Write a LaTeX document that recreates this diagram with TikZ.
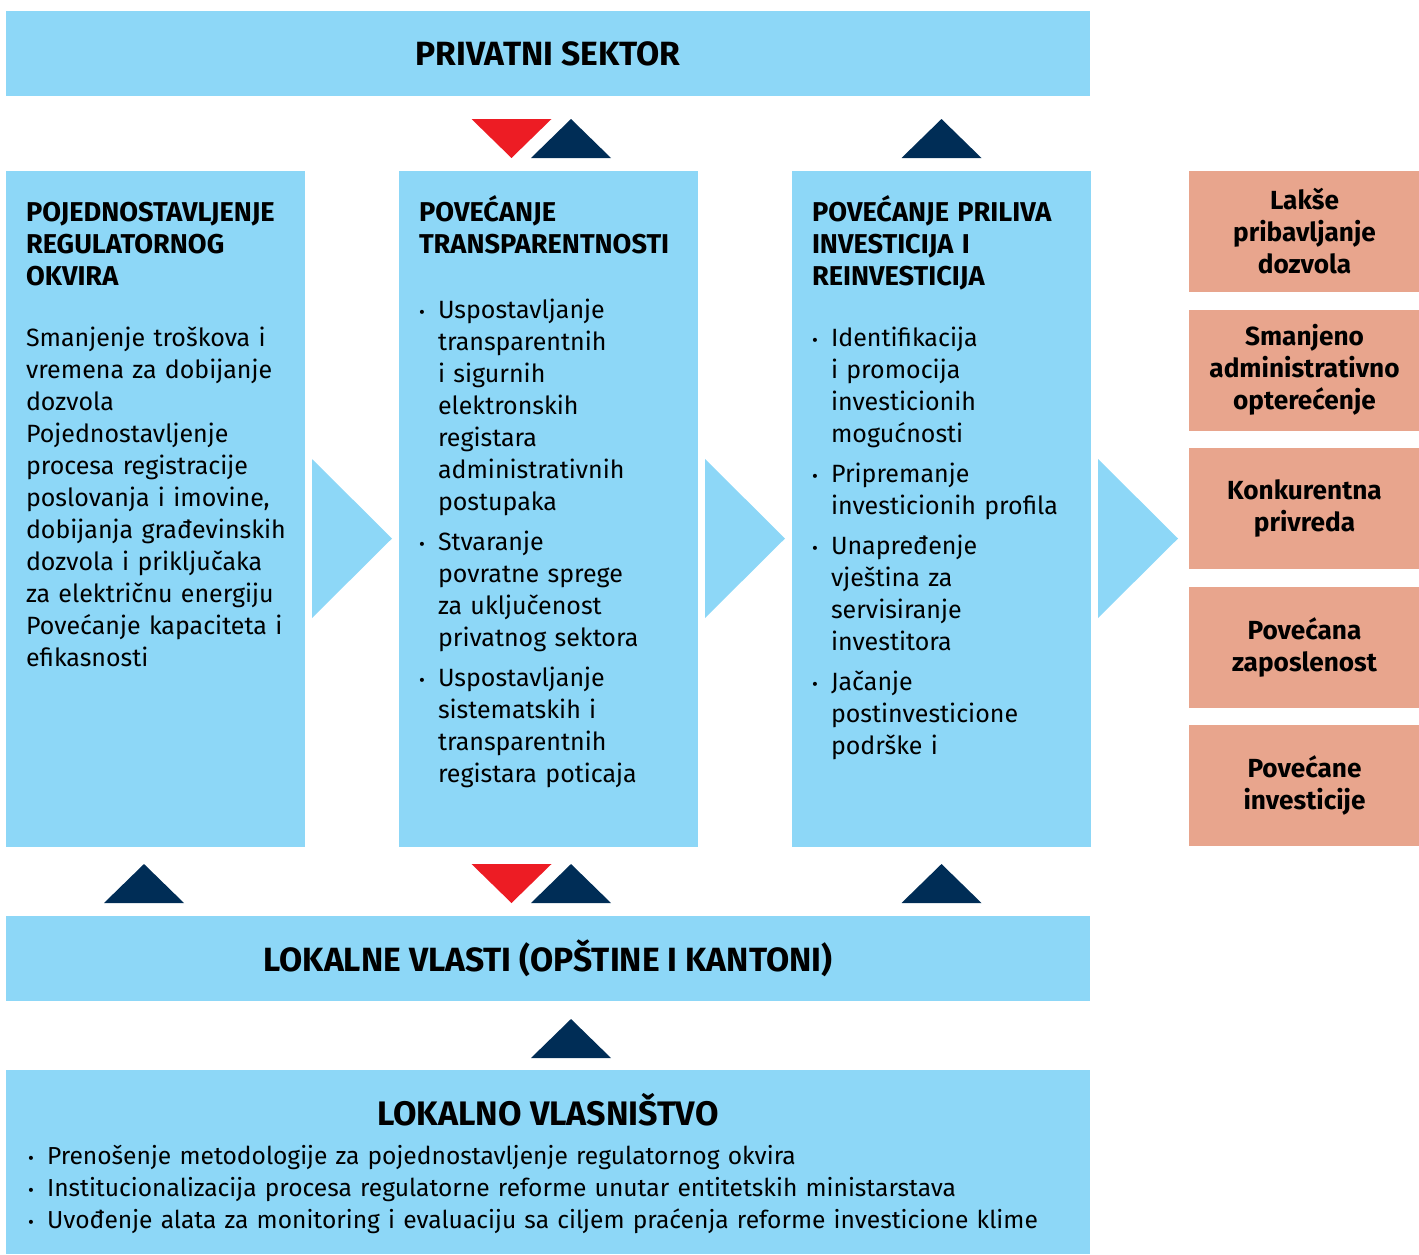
\documentclass[tikz,border=0pt]{standalone}
\usepackage{fontspec}
\setmainfont{Fira Sans}
\usetikzlibrary{positioning,calc}
\definecolor{skyblue}{HTML}{8DD7F7}
\definecolor{navy}{HTML}{002D56}
\definecolor{flagred}{HTML}{ED1C24}
\definecolor{salmon}{HTML}{E8A58D}
\definecolor{ink}{HTML}{231F20}
\newcommand\bul[2][130pt]{\par\noindent\makebox[9.5pt][l]{\small\textbullet}\parbox[t]{#1}{\strut#2\strut}}
\newcommand\topline{\rule{0pt}{13pt}}

\begin{document}
\begin{tikzpicture}[x=0.5pt,y=-0.5pt,node distance=23.5pt,outer sep=0pt,font=\color{ink}]
  \tikzstyle{bar}=[rectangle,fill=skyblue,inner sep=0pt,minimum width=542pt,
                   minimum height=42.5pt,font=\fontsize{16.8}{18}\selectfont\bfseries]
  \tikzstyle{column}=[rectangle,fill=skyblue,inner sep=0pt,minimum width=149.5pt,minimum height=338pt]
  \tikzstyle{coltext}=[anchor=north west,inner sep=0pt,text width=142pt,align=left,
                       font=\fontsize{12.5}{16}\selectfont]
  \tikzstyle{result}=[rectangle,fill=salmon,inner sep=0pt,minimum width=115.5pt,
                      minimum height=60.5pt,align=center,font=\fontsize{13.1}{16}\selectfont\bfseries]
  \tikzset{
    navyup/.pic={\fill[navy] (-40,19.5) -- (40,19.5) -- (0,-19.5) -- cycle;},
    reddown/.pic={\fill[flagred] (-40,-19.5) -- (40,-19.5) -- (0,19.5) -- cycle;},
    chevron/.pic={\fill[skyblue] (0,-79.5) -- (80,0) -- (0,79.5) -- cycle;}
  }
  \useasboundingbox (0,0) rectangle (1419,1254);

  % boxes
  \node [bar] (priv) at (548,53.5) {PRIVATNI SEKTOR};
  \node [column] (col1) [below=37.5pt of priv.south west,anchor=north west] {};
  \node [column] (col2) [right=47pt of col1] {};
  \node [column] (col3) [right=47pt of col2] {};
  \node [result] (res1) [right=49pt of col3.north east,anchor=north west] {Lakše\\pribavljanje\\dozvola};
  \node [result] (res2) [below=8.75pt of res1] {Smanjeno\\administrativno\\opterećenje};
  \node [result] (res3) [below=8.75pt of res2] {Konkurentna\\privreda};
  \node [result] (res4) [below=8.75pt of res3] {Povećana\\zaposlenost};
  \node [result] (res5) [below=8.75pt of res4] {Povećane\\investicije};
  \node [bar] (lok) [below=34.5pt of col1.south west,anchor=north west] {LOKALNE VLASTI (OPŠTINE I KANTONI)};
  \node [bar,minimum height=92pt] (own) [below=34.5pt of lok] {};

  % column texts
  \node [coltext] (txt1) at ($(col1.north west)+(20,24.6)$) {\topline{\bfseries\fontsize{13.6}{16}\selectfont
    POJEDNOSTAVLJENJE\\REGULATORNOG\\OKVIRA}\par\vspace{14.5pt}\noindent
    Smanjenje troškova i\\vremena za dobijanje\\dozvola\\Pojednostavljenje\\procesa registracije\\
    poslovanja i imovine,\\dobijanja građevinskih\\dozvola i priključaka\\za električnu energiju\\
    Povećanje kapaciteta i\\efikasnosti};
  \node [coltext] (txt2) at ($(col2.north west)+(20,24.6)$) {\topline{\bfseries\fontsize{13.6}{16}\selectfont
    POVEĆANJE\\TRANSPARENTNOSTI}\par\vspace{16.5pt}%
    \bul{Uspostavljanje\\transparentnih\\i sigurnih\\elektronskih\\registara\\administrativnih\\postupaka}
    \par\vspace{3pt}\bul{Stvaranje\\povratne sprege\\za uključenost\\privatnog sektora}
    \par\vspace{3pt}\bul{Uspostavljanje\\sistematskih i\\transparentnih\\registara poticaja}};
  \node [coltext] (txt3) at ($(col3.north west)+(20,24.6)$) {\topline{\bfseries\fontsize{13.6}{16}\selectfont
    POVEĆANJE PRILIVA\\INVESTICIJA I\\REINVESTICIJA}\par\vspace{14.5pt}%
    \bul{Identifikacija\\i promocija\\investicionih\\mogućnosti}
    \par\vspace{3pt}\bul{Pripremanje\\investicionih profila}
    \par\vspace{3pt}\bul{Unapređenje\\vještina za\\servisiranje\\investitora}
    \par\vspace{3pt}\bul{Jačanje\\postinvesticione\\podrške i}};

  % bottom box text
  \node [font=\fontsize{17}{18}\selectfont\bfseries] (ownttl) at ($(own.north)+(0,40)$) {LOKALNO VLASNIŠTVO};
  \node [anchor=north west,inner sep=0pt,text width=525pt,align=left,
         font=\fontsize{12.3}{16}\selectfont] (owntxt) at ($(own.north west)+(22,62)$) {%
    \bul[510pt]{Prenošenje metodologije za pojednostavljenje regulatornog okvira}
    \bul[510pt]{Institucionalizacija procesa regulatorne reforme unutar entitetskih ministarstava}
    \bul[510pt]{Uvođenje alata za monitoring i evaluaciju sa ciljem praćenja reforme investicione klime}};

  % arrows
  \pic at ($(col2.north)+(-37,-32.5)$) {reddown};
  \pic at ($(col2.north)+(22.5,-32.5)$) {navyup};
  \pic at ($(col3.north)+(0,-32.5)$) {navyup};
  \pic at ($(col1.south)+(-11.5,36.5)$) {navyup};
  \pic at ($(col2.south)+(-37,36.5)$) {reddown};
  \pic at ($(col2.south)+(22.5,36.5)$) {navyup};
  \pic at ($(col3.south)+(0,36.5)$) {navyup};
  \pic at ($(lok.south)+(23,37.5)$) {navyup};
  \pic at ($(col1.east)+(7,29.5)$) {chevron};
  \pic at ($(col2.east)+(7,29.5)$) {chevron};
  \pic at ($(col3.east)+(7,29.5)$) {chevron};
\end{tikzpicture}
\end{document}
